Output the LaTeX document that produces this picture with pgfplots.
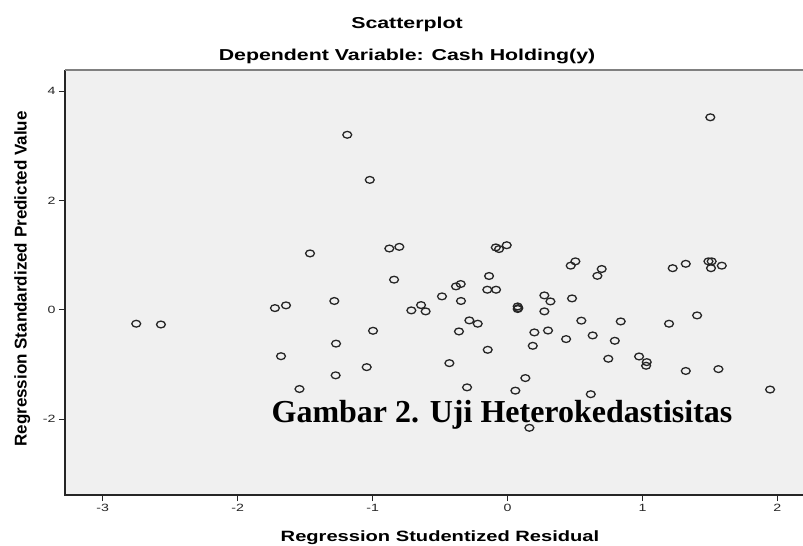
\documentclass[border=0pt]{standalone}
\usepackage{fontspec}
\setmainfont{Liberation Sans}
\newfontfamily\wide{Liberation Sans}[FakeStretch=1.35]
\newfontfamily\tnr{Liberation Serif}
\usepackage{pgfplots}
\pgfplotsset{compat=1.18}
\definecolor{plotbg}{HTML}{F0F0F0}
\definecolor{markc}{HTML}{262626}
\begin{document}
\begin{tikzpicture}[x=1bp,y=1bp]
\useasboundingbox (0,0) rectangle (803,-546);
\fill[white] (0,0) rectangle (803,-546);
\begin{axis}[
  scale only axis, width=738bp, height=425bp,
  at={(65bp,-495bp)}, anchor=south west,
  xmin=-3.280, xmax=2.190, ymin=-3.389, ymax=4.385,
  axis background/.style={fill=plotbg},
  axis line style={draw=none},
  xtick={-3,-2,-1,0,1,2}, xticklabels={-3,-2,-1,0,1,2},
  ytick={-2,0,2,4}, yticklabels={-2,0,2,4},
  xtick pos=bottom, ytick pos=left,
  tick align=outside, major tick length=6bp,
  tick style={black!85, line width=0.9bp},
  ticklabel style={font=\wide\fontsize{10.5bp}{12bp}\selectfont, text=black!85},
  clip=false,
]
\addplot[only marks, mark=o, mark size=3.4bp, mark options={xscale=1.3, line width=1.3bp, draw=markc}] table {
x y
-2.752 -0.256
-2.569 -0.270
-1.724 0.030
-1.642 0.080
-1.679 -0.850
-1.542 -1.450
-1.464 1.030
-1.284 0.160
-1.271 -0.620
-1.274 -1.200
-1.188 3.200
-1.021 2.375
-0.997 -0.385
-1.044 -1.050
-0.876 1.120
-0.802 1.150
-0.841 0.550
-0.713 -0.012
-0.641 0.085
-0.607 -0.030
-0.486 0.244
-0.382 0.427
-0.347 0.470
-0.345 0.160
-0.283 -0.195
-0.221 -0.256
-0.360 -0.397
-0.431 -0.977
-0.300 -1.420
-0.147 -0.733
-0.137 0.617
-0.150 0.366
-0.085 0.366
-0.087 1.140
-0.063 1.110
-0.006 1.180
0.075 0.060
0.075 0.013
0.080 0.030
0.273 0.262
0.318 0.152
0.273 -0.030
0.199 -0.415
0.187 -0.660
0.300 -0.380
0.132 -1.250
0.058 -1.480
0.162 -2.160
0.468 0.806
0.503 0.885
0.698 0.745
0.666 0.620
0.478 0.207
0.434 -0.537
0.547 -0.200
0.631 -0.470
0.617 -1.545
0.839 -0.214
0.795 -0.568
0.747 -0.897
0.975 -0.855
1.032 -0.958
1.027 -1.025
1.197 -0.256
1.224 0.760
1.321 0.840
1.405 -0.104
1.321 -1.120
1.489 0.885
1.513 0.885
1.508 0.760
1.588 0.806
1.563 -1.086
1.503 3.520
1.946 -1.460
};
\draw[black!85, line width=1.3bp] (rel axis cs:0,1) -- (rel axis cs:0,0) -- (rel axis cs:1,0);
\draw[black!50, line width=1.8bp] (rel axis cs:0,1) -- (rel axis cs:1,1);
\end{axis}
\node[anchor=base, font=\wide\bfseries\fontsize{15.8bp}{18bp}\selectfont] at (407,-28.3) {Scatterplot};
\node[anchor=base, font=\wide\bfseries\fontsize{15.8bp}{18bp}\selectfont] at (407,-60.7) {Dependent Variable: Cash Holding(y)};
\node[anchor=base, font=\wide\bfseries\fontsize{14.9bp}{17bp}\selectfont] at (440,-541) {Regression Studentized Residual};
\node[rotate=90, anchor=base, font=\bfseries\fontsize{17bp}{20bp}\selectfont] at (26.5,-279) {Regression Standardized Predicted Value};
\node[anchor=base, font=\tnr\bfseries\fontsize{32bp}{36bp}\selectfont] at (502,-422) {Gambar 2. Uji Heterokedastisitas};
\end{tikzpicture}
\end{document}
